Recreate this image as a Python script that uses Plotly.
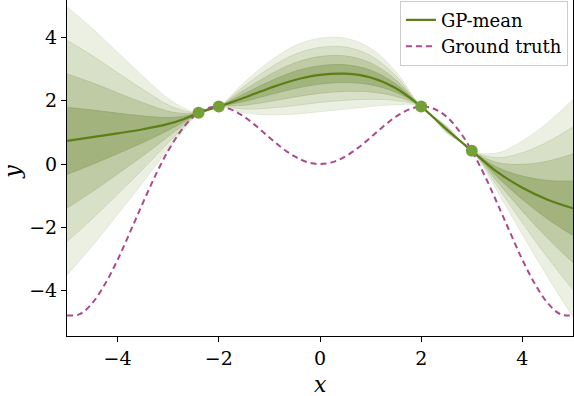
import plotly.graph_objects as go

# ground truth curve (dashed)
truth_x = [-5.0, -4.75, -4.5, -4.25, -4.0, -3.75, -3.5, -3.25, -3.0, -2.75, -2.5, -2.25, -2.0,
           -1.75, -1.5, -1.25, -1.0, -0.75, -0.5, -0.25, 0.0, 0.25, 0.5, 0.75, 1.0, 1.25,
           1.5, 1.75, 2.0, 2.25, 2.5, 2.75, 3.0, 3.25, 3.5, 3.75, 4.0, 4.25, 4.5, 4.75, 5.0]
truth_y = [-4.79, -4.75, -4.40, -3.80, -3.03, -2.14, -1.23, -0.35, 0.42, 1.05, 1.50, 1.75, 1.82,
           1.72, 1.50, 1.19, 0.84, 0.51, 0.24, 0.06, 0.0, 0.06, 0.24, 0.51, 0.84, 1.19,
           1.50, 1.72, 1.82, 1.75, 1.50, 1.05, 0.42, -0.35, -1.23, -2.14, -3.03, -3.80, -4.40, -4.75, -4.79]

# GP posterior mean and the width of one shaded band
gp_x = [-5.0, -4.5, -4.0, -3.5, -3.0, -2.7, -2.4, -2.2, -2.0, -1.5, -1.0, -0.5, 0.0,
        0.5, 1.0, 1.5, 2.0, 2.5, 3.0, 3.5, 4.0, 4.5, 5.0]
gp_mean = [0.73, 0.85, 0.97, 1.10, 1.27, 1.42, 1.62, 1.73, 1.82, 2.10, 2.40, 2.66, 2.82,
           2.86, 2.74, 2.40, 1.82, 1.10, 0.42, -0.25, -0.75, -1.13, -1.40]
gp_step = [1.06, 0.86, 0.64, 0.42, 0.20, 0.09, 0.0, 0.012, 0.0, 0.12, 0.21, 0.27, 0.29,
           0.28, 0.23, 0.13, 0.0, 0.03, 0.0, 0.15, 0.37, 0.61, 0.86]

# observations
obs_x = [-2.4, -2.0, 2.0, 3.0]
obs_y = [1.62, 1.82, 1.82, 0.42]

band_levels = [4, 3, 2, 1]
band_fill = ["#ebf0e3", "#d8e0c8", "#bfcba5", "#a2b37e"]
band_edge = ["#dde4d0", "#c6d1b0", "#aebd8f", "#93a76c"]

fig = go.Figure()

for k, fc, ec in zip(band_levels, band_fill, band_edge):
    lower = [m - k * s for m, s in zip(gp_mean, gp_step)]
    upper = [m + k * s for m, s in zip(gp_mean, gp_step)]
    fig.add_trace(go.Scatter(x=gp_x, y=lower, mode="lines", showlegend=False,
                             line=dict(color=ec, width=0.8, shape="spline", smoothing=1.0),
                             hoverinfo="skip"))
    fig.add_trace(go.Scatter(x=gp_x, y=upper, mode="lines", showlegend=False,
                             fill="tonexty", fillcolor=fc,
                             line=dict(color=ec, width=0.8, shape="spline", smoothing=1.0),
                             hoverinfo="skip"))

# mean line
fig.add_trace(go.Scatter(x=gp_x, y=gp_mean, mode="lines", name="GP-mean",
                         line=dict(color="#5b7f14", width=2.2, shape="spline", smoothing=1.0)))

# ground truth
fig.add_trace(go.Scatter(x=truth_x, y=truth_y, mode="lines", name="Ground truth",
                         line=dict(color="#ab4a8d", width=2, dash="6px,4px",
                                   shape="spline", smoothing=1.0)))

# data points
fig.add_trace(go.Scatter(x=obs_x, y=obs_y, mode="markers", showlegend=False,
                         marker=dict(color="#74a037", size=12)))

fig.update_layout(
    width=574, height=396,
    margin=dict(l=67, r=1, t=0, b=60),
    paper_bgcolor="white", plot_bgcolor="white",
    font=dict(family="DejaVu Serif", size=19, color="black"),
    showlegend=True,
    legend=dict(x=0.99, xanchor="right", y=0.998, yanchor="top", traceorder="normal",
                bgcolor="rgba(255,255,255,0.85)", bordercolor="#cccccc", borderwidth=1,
                font=dict(size=18), tracegroupgap=0),
    annotations=[
        dict(text="<i>x</i>", xref="paper", yref="paper", x=0.5, y=-0.143,
             xanchor="center", yanchor="middle", showarrow=False, font=dict(size=22)),
        dict(text="<i>y</i>", xref="paper", yref="paper", x=-0.108, y=0.49,
             xanchor="center", yanchor="middle", showarrow=False, textangle=-90,
             font=dict(size=22)),
    ],
)

fig.update_xaxes(range=[-5, 5], tickvals=[-4, -2, 0, 2, 4], automargin=False,
                 showgrid=False, zeroline=False, showline=True, linecolor="black", linewidth=1,
                 ticks="outside", ticklen=5, tickcolor="black")
fig.update_yaxes(range=[-5.44, 5.19], tickvals=[-4, -2, 0, 2, 4], automargin=False,
                 showgrid=False, zeroline=False, showline=True, linecolor="black", linewidth=1,
                 mirror=True, ticks="outside", ticklen=5, tickcolor="black")

# drop the page's default body margin so the figure sits at the window's corner
fig.write_html("out.html", config={"displayModeBar": False},
               post_script="document.body.style.margin='0px';")
